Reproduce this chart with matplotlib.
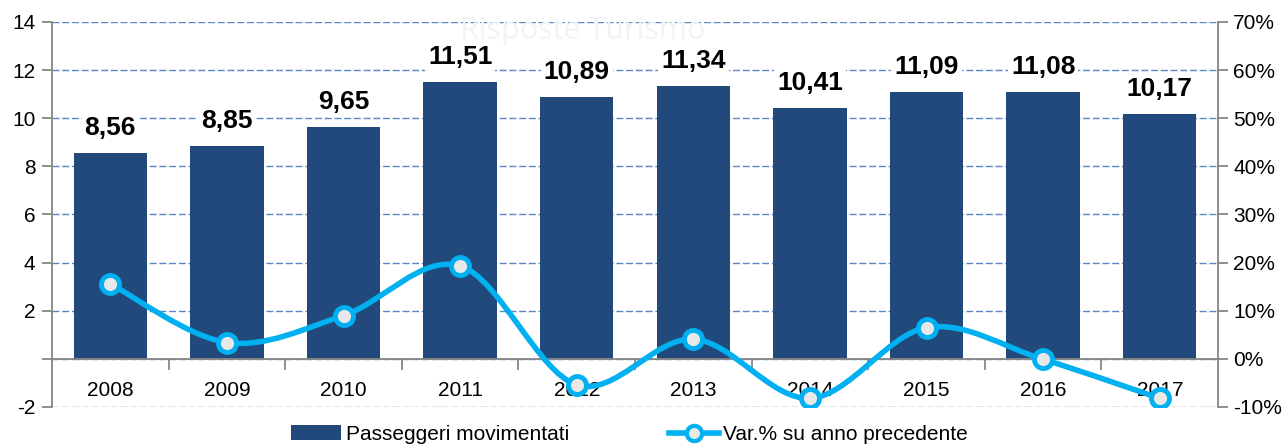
from __future__ import annotations

import matplotlib

matplotlib.use("Agg")
import matplotlib.pyplot as plt
import numpy as np
from matplotlib import font_manager
from matplotlib.lines import Line2D
from matplotlib.patches import Patch, PathPatch
from matplotlib.path import Path
from matplotlib.ticker import FuncFormatter, MultipleLocator

YEARS = ["2008", "2009", "2010", "2011", "2012", "2013", "2014", "2015", "2016", "2017"]
PASSENGERS = [8.56, 8.85, 9.65, 11.51, 10.89, 11.34, 10.41, 11.09, 11.08, 10.17]
VARIATION = [15.6, 3.4, 9.0, 19.3, -5.4, 4.1, -8.2, 6.5, -0.1, -8.2]
BAR_LABEL = "Passeggeri movimentati"
LINE_LABEL = "Var.% su anno precedente"
WATERMARK = "Risposte Turismo"

NAVY = "#22497B"
CYAN = "#00B0F0"
GRID = "#5B87C5"
SPINE = "#868686"


def pick_font() -> str:
    names = {f.name for f in font_manager.fontManager.ttflist}
    for name in ("Liberation Sans Narrow", "Liberation Sans", "DejaVu Sans"):
        if name in names:
            return name
    return "DejaVu Sans"


def smooth_path(ax: plt.Axes, xs: np.ndarray, ys: np.ndarray) -> Path:
    # Excel-style smoothed line: cubic Bezier segments built in screen space
    pts = ax.transData.transform(np.column_stack([xs, ys]))
    ext = np.vstack([pts[0], pts, pts[-1]])
    verts = [pts[0]]
    codes = [Path.MOVETO]
    for i in range(len(pts) - 1):
        p0, p1, p2, p3 = ext[i], ext[i + 1], ext[i + 2], ext[i + 3]
        verts += [p1 + (p2 - p0) / 6, p2 - (p3 - p1) / 6, p2]
        codes += [Path.CURVE4] * 3
    data = ax.transData.inverted().transform(np.array(verts))
    return Path(data, codes)


def main() -> None:
    font = pick_font()
    plt.rcParams.update({"font.family": font, "font.size": 15})

    fig = plt.figure(figsize=(12.85, 4.47), dpi=100)
    ax = fig.add_axes([0.0405, 0.0895, 0.9074, 0.8613])
    ax2 = ax.twinx()

    x = np.arange(len(YEARS))
    ax.bar(x, PASSENGERS, width=0.63, color=NAVY, zorder=2)
    ax.set_xlim(-0.5, len(YEARS) - 0.5)
    ax.set_ylim(-2, 14)
    ax.yaxis.set_major_locator(MultipleLocator(2))
    ax.yaxis.set_major_formatter(FuncFormatter(lambda v, _: "" if abs(v) < 1e-9 else f"{v:.0f}"))
    ax.grid(axis="y", color=GRID, linestyle=(0, (5, 2)), linewidth=1.0)
    ax.set_axisbelow(True)

    for side in ("top", "right"):
        ax.spines[side].set_visible(False)
    ax.spines["bottom"].set_position(("data", 0))
    ax.spines["bottom"].set_color(SPINE)
    ax.spines["bottom"].set_linewidth(1.3)
    ax.spines["left"].set_color(SPINE)
    ax.spines["left"].set_linewidth(1.3)

    ax.set_xticks(x, YEARS)
    ax.set_xticks(x[:-1] + 0.5, minor=True)
    ax.tick_params(axis="x", which="major", length=0, pad=16, labelsize=15)
    ax.tick_params(axis="x", which="minor", length=8, width=1.3, color=SPINE, direction="out")
    ax.tick_params(axis="y", length=7, width=1.3, color=SPINE, labelsize=15, pad=5)

    for xi, value in zip(x, PASSENGERS):
        ax.annotate(
            f"{value:.2f}".replace(".", ","),
            (xi, value),
            xytext=(0, 25),
            textcoords="offset pixels",
            ha="center",
            va="center",
            fontsize=19,
            fontweight="bold",
            zorder=4,
            bbox=dict(facecolor="white", edgecolor="none", pad=2),
        )

    ax.text(
        0.455,
        1.015,
        WATERMARK,
        transform=ax.transAxes,
        ha="center",
        va="top",
        fontsize=22,
        family="Open Sans",
        color="#F1F3F7",
        zorder=1,
        clip_on=False,
    )

    ax2.set_ylim(-10, 70)
    ax2.yaxis.set_major_locator(MultipleLocator(10))
    ax2.yaxis.set_major_formatter(FuncFormatter(lambda v, _: f"{v:.0f}%"))
    ax2.tick_params(axis="y", length=7, width=1.3, color=SPINE, labelsize=15, pad=4)
    for side in ("top", "left", "bottom"):
        ax2.spines[side].set_visible(False)
    ax2.spines["right"].set_color(SPINE)
    ax2.spines["right"].set_linewidth(1.3)

    path = smooth_path(ax2, x.astype(float), np.array(VARIATION, dtype=float))
    ax2.add_patch(PathPatch(path, facecolor="none", edgecolor=CYAN, linewidth=4, capstyle="round", zorder=3))
    ax2.plot(
        x,
        VARIATION,
        linestyle="none",
        marker="o",
        markersize=13,
        markerfacecolor="#E8E8E8",
        markeredgecolor=CYAN,
        markeredgewidth=3.5,
        zorder=4,
    )

    handles = [
        Patch(facecolor=NAVY, edgecolor="none"),
        Line2D([], [], color=CYAN, linewidth=4, marker="o", markersize=11,
               markerfacecolor="#E8E8E8", markeredgecolor=CYAN, markeredgewidth=3),
    ]
    fig.legend(
        handles,
        [BAR_LABEL, LINE_LABEL],
        loc="center",
        bbox_to_anchor=(0.49, 0.028),
        ncol=2,
        frameon=False,
        fontsize=15,
        handlelength=2.4,
        handleheight=0.7,
        handletextpad=0.2,
        columnspacing=4.8,
        borderaxespad=0,
    )

    fig.savefig("out.png", dpi=100, facecolor="white")
    plt.close(fig)


if __name__ == "__main__":
    main()
